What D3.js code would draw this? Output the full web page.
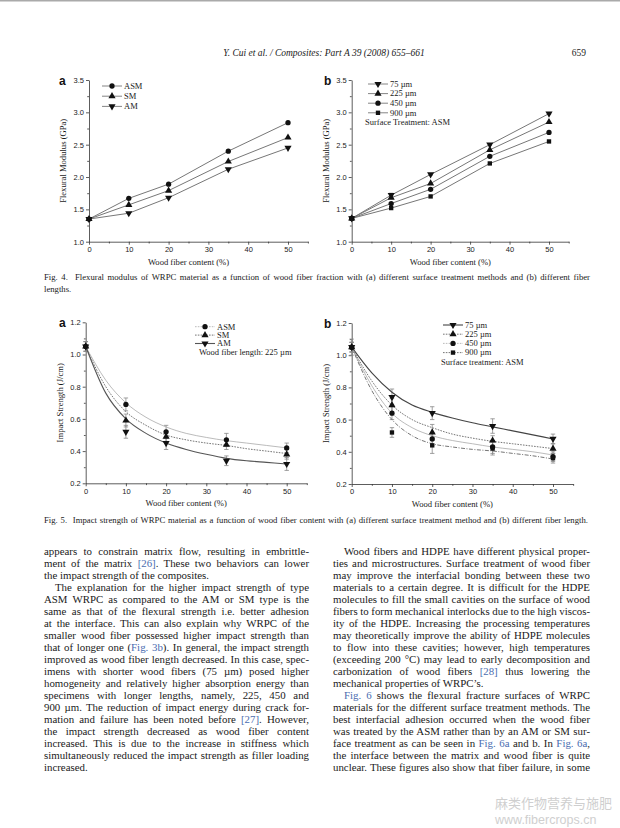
<!DOCTYPE html>
<html><head><meta charset="utf-8">
<script src="https://cdnjs.cloudflare.com/ajax/libs/d3/7.8.5/d3.min.js"></script>
<style>body{margin:0;background:#fff}svg{display:block}</style>
</head><body>
<svg id="page" width="620" height="828"></svg>
<script>
// ---------- DATA ----------
const fiberContent = [0, 10, 20, 35, 50];
const xTickLabels = [0, 10, 20, 30, 40, 50];
const flexTicks = [1.0, 1.5, 2.0, 2.5, 3.0, 3.5];
const impactTicks = [0.2, 0.4, 0.6, 0.8, 1.0, 1.2];

const flexASM = [1.35, 1.67, 1.89, 2.40, 2.84];
const flexSM  = [1.35, 1.57, 1.79, 2.24, 2.61];
const flexAM  = [1.35, 1.44, 1.68, 2.12, 2.45];

const flex75  = [1.36, 1.72, 2.04, 2.50, 2.98];
const flex225 = [1.36, 1.68, 1.90, 2.42, 2.85];
const flex450 = [1.36, 1.59, 1.81, 2.32, 2.69];
const flex900 = [1.36, 1.52, 1.70, 2.21, 2.55];
const flex75Err = [0.01, 0.03, 0.01, 0.01, 0.01];

const impactASM = [1.05, 0.69, 0.52, 0.47, 0.42];
const impactSM  = [1.05, 0.59, 0.49, 0.44, 0.38];
const impactAM  = [1.05, 0.52, 0.45, 0.34, 0.32];
const impactASMErr = [0.03, 0.04, 0.04, 0.04, 0.03];
const impactSMErr  = [0.03, 0.04, 0.03, 0.03, 0.03];
const impactAMErr  = [0.03, 0.04, 0.04, 0.03, 0.04];

const fitX = [0, 5, 10, 15, 20, 25, 30, 35, 40, 45, 50];
const impactFitASM = [1.05, 0.84, 0.70, 0.61, 0.55, 0.51, 0.485, 0.465, 0.45, 0.435, 0.42];
const impactFitSM  = [1.05, 0.80, 0.645, 0.56, 0.50, 0.47, 0.45, 0.435, 0.415, 0.40, 0.385];
const impactFitAM  = [1.05, 0.76, 0.60, 0.51, 0.45, 0.41, 0.38, 0.355, 0.34, 0.33, 0.32];

const impact75  = [1.05, 0.74, 0.64, 0.56, 0.48];
const impact225 = [1.05, 0.69, 0.52, 0.47, 0.42];
const impact450 = [1.05, 0.64, 0.48, 0.43, 0.37];
const impact900 = [1.05, 0.52, 0.44, 0.42, 0.36];
const impact75Err  = [0.05, 0.05, 0.04, 0.045, 0.03];
const impact225Err = [0.03, 0.04, 0.05, 0.03, 0.03];
const impact450Err = [0.03, 0.04, 0.04, 0.04, 0.03];
const impact900Err = [0.03, 0.03, 0.05, 0.04, 0.03];
const lenFit75  = [1.05, 0.89, 0.77, 0.69, 0.645, 0.61, 0.58, 0.555, 0.53, 0.505, 0.48];
const lenFit225 = [1.05, 0.84, 0.69, 0.60, 0.55, 0.51, 0.485, 0.465, 0.45, 0.435, 0.42];
const lenFit450 = [1.05, 0.81, 0.64, 0.55, 0.50, 0.47, 0.45, 0.43, 0.415, 0.40, 0.38];
const lenFit900 = [1.05, 0.78, 0.60, 0.50, 0.45, 0.43, 0.415, 0.405, 0.39, 0.375, 0.355];

const treatmentNames = ["ASM", "SM", "AM"];
const lengthNames = ["75 \u00b5m", "225 \u00b5m", "450 \u00b5m", "900 \u00b5m"];

// ---------- TEXT ----------
const headerText = "Y. Cui et al. / Composites: Part A 39 (2008) 655\u2013661";
const pageNumber = "659";
const fig4Caption = ["Fig. 4.  Flexural modulus of WRPC material as a function of wood fiber fraction with (a) different surface treatment methods and (b) different fiber", "lengths."];
const fig5Caption = "Fig. 5.  Impact strength of WRPC material as a function of wood fiber content with (a) different surface treatment method and (b) different fiber length.";
const leftLines = [
 {t:"appears to constrain matrix flow, resulting in embrittle-"},
 {t:"ment of the matrix {[26]}. These two behaviors can lower"},
 {t:"the impact strength of the composites.", last:true},
 {t:"The explanation for the higher impact strength of type", indent:true},
 {t:"ASM WRPC as compared to the AM or SM type is the"},
 {t:"same as that of the flexural strength i.e. better adhesion"},
 {t:"at the interface. This can also explain why WRPC of the"},
 {t:"smaller wood fiber possessed higher impact strength than"},
 {t:"that of longer one ({Fig. 3b}). In general, the impact strength"},
 {t:"improved as wood fiber length decreased. In this case, spec-"},
 {t:"imens with shorter wood fibers (75 \u00b5m) posed higher"},
 {t:"homogeneity and relatively higher absorption energy than"},
 {t:"specimens with longer lengths, namely, 225, 450 and"},
 {t:"900 \u00b5m. The reduction of impact energy during crack for-"},
 {t:"mation and failure has been noted before {[27]}. However,"},
 {t:"the impact strength decreased as wood fiber content"},
 {t:"increased. This is due to the increase in stiffness which"},
 {t:"simultaneously reduced the impact strength as filler loading"},
 {t:"increased.", last:true}
];
const rightLines = [
 {t:"Wood fibers and HDPE have different physical proper-", indent:true},
 {t:"ties and microstructures. Surface treatment of wood fiber"},
 {t:"may improve the interfacial bonding between these two"},
 {t:"materials to a certain degree. It is difficult for the HDPE"},
 {t:"molecules to fill the small cavities on the surface of wood"},
 {t:"fibers to form mechanical interlocks due to the high viscos-"},
 {t:"ity of the HDPE. Increasing the processing temperatures"},
 {t:"may theoretically improve the ability of HDPE molecules"},
 {t:"to flow into these cavities; however, high temperatures"},
 {t:"(exceeding 200 \u00b0C) may lead to early decomposition and"},
 {t:"carbonization of wood fibers {[28]} thus lowering the"},
 {t:"mechanical properties of WRPC\u2019s.", last:true},
 {t:"{Fig. 6} shows the flexural fracture surfaces of WRPC", indent:true},
 {t:"materials for the different surface treatment methods. The"},
 {t:"best interfacial adhesion occurred when the wood fiber"},
 {t:"was treated by the ASM rather than by an AM or SM sur-"},
 {t:"face treatment as can be seen in {Fig. 6a} and b. In {Fig. 6a},"},
 {t:"the interface between the matrix and wood fiber is quite"},
 {t:"unclear. These figures also show that fiber failure, in some"}
];

// ---------- DRAW ----------
const svg = d3.select("#page");
const SERIF = "'Liberation Serif','Times New Roman',serif";
const SANS = "'Liberation Sans',Arial,sans-serif";
const INK = "#1a1a1a";
const LINK = "#4a6cb0";

svg.append("rect").attr("width",620).attr("height",828).attr("fill","#fff");
svg.append("line").attr("x1",0).attr("x2",620).attr("y1",0.75).attr("y2",0.75).attr("stroke","#aaa").attr("stroke-width",1.5);

svg.append("text").attr("x",324).attr("y",56).attr("text-anchor","middle")
  .attr("font-family",SERIF).attr("font-style","italic").attr("font-size",9.5).attr("fill",INK).text(headerText);
svg.append("text").attr("x",586).attr("y",56).attr("text-anchor","end")
  .attr("font-family",SERIF).attr("font-size",9.5).attr("fill",INK).text(pageNumber);

function richText(sel, str) {
  const parts = str.split(/(\{[^}]*\})/).filter(s => s.length);
  parts.forEach(p => {
    if (p.startsWith("{")) sel.append("tspan").attr("fill", LINK).text(p.slice(1, -1));
    else sel.append("tspan").text(p);
  });
}
function justifiedLine(x, right, y, str, size, justify) {
  const t = svg.append("text").attr("x", x).attr("y", y)
    .attr("font-family", SERIF).attr("font-size", size).attr("fill", INK)
    .attr("xml:space", "preserve");
  richText(t, str);
  if (justify) {
    const len = t.node().getComputedTextLength();
    const spaces = (str.replace(/[{}]/g, "").match(/ /g) || []).length;
    if (spaces) t.attr("word-spacing", (right - x - len) / spaces);
  }
  return t;
}
function column(lines, x, right, y0, lh) {
  lines.forEach((l, i) => {
    const xs = l.indent ? x + 11 : x;
    justifiedLine(xs, right, y0 + i * lh, l.t, 10.85, !l.last);
  });
}

// Captions
justifiedLine(44, 590, 280, fig4Caption[0], 8.7, true);
justifiedLine(44, 590, 291.5, fig4Caption[1], 8.7, false);
justifiedLine(44, 588, 523, fig5Caption, 8.7, true);

column(leftLines, 44, 309, 554.5, 12.0);
column(rightLines, 333, 590, 554.5, 12.0);

// Watermark
svg.append("text").attr("x",495).attr("y",808).attr("font-family","'Noto Sans CJK SC',sans-serif")
  .attr("font-size",13).attr("fill","#cfcfcf").text("\u9ebb\u7c7b\u4f5c\u7269\u8425\u517b\u4e0e\u65bd\u80a5");
svg.append("text").attr("x",495).attr("y",824).attr("font-family",SANS)
  .attr("font-size",12.5).attr("fill","#cfcfcf").text("www.fibercrops.cn");

// ---------- CHART HELPERS ----------
const symCircle = d3.symbol().type(d3.symbolCircle).size(22)();
const symTri = d3.symbol().type(d3.symbolTriangle).size(22)();
const symSquare = d3.symbol().type(d3.symbolSquare).size(19)();
const markers = {
  circle: {d: symCircle, rot: 0},
  up: {d: symTri, rot: 0},
  down: {d: symTri, rot: 180},
  square: {d: symSquare, rot: 0}
};
function marker(g, x, y, m) {
  g.append("path").attr("d", markers[m].d)
    .attr("transform", `translate(${x},${y}) rotate(${markers[m].rot})`)
    .attr("fill", "#111");
}

function makePanel(o) {
  const g = svg.append("g");
  const k = (o.x50 - o.x0) / 50;
  const xs = d3.scaleLinear().domain([0, 55]).range([o.x0, o.x0 + 55 * k]);
  const ys = d3.scaleLinear().domain(o.yDomain).range([o.yBottom, o.yTop]);
  g.append("g").attr("transform", `translate(0,${o.yBottom})`)
    .call(d3.axisBottom(xs).tickValues(xTickLabels).tickSize(3).tickSizeOuter(0).tickPadding(2).tickFormat(d3.format("d")));
  g.append("g").attr("transform", `translate(0,${o.yBottom})`)
    .call(d3.axisBottom(xs).tickValues([5, 15, 25, 35, 45, 55]).tickSize(1.8).tickSizeOuter(0).tickFormat(""))
    .select(".domain").remove();
  g.append("g").attr("transform", `translate(${o.x0},0)`)
    .call(d3.axisLeft(ys).tickValues(o.yTicks).tickSize(3).tickSizeOuter(0).tickPadding(2).tickFormat(d3.format(".1f")));
  g.append("g").attr("transform", `translate(${o.x0},0)`)
    .call(d3.axisLeft(ys).tickValues(o.yMinor).tickSize(1.8).tickSizeOuter(0).tickFormat(""))
    .select(".domain").remove();
  g.selectAll(".domain,.tick line").attr("stroke", "#333").attr("stroke-width", 0.8);
  g.selectAll(".tick text").attr("font-family", SANS).attr("font-size", 7.5).attr("fill", "#222");
  g.append("text").attr("x", (o.x0 + o.x50) / 2).attr("y", o.yBottom + 23).attr("text-anchor", "middle")
    .attr("font-family", SERIF).attr("font-size", 8.6).attr("fill", INK).text("Wood fiber content (%)");
  g.append("text").attr("transform", `translate(${o.x0 - 23},${(o.yTop + o.yBottom) / 2}) rotate(-90)`)
    .attr("text-anchor", "middle").attr("font-family", SERIF).attr("font-size", 8.6).attr("fill", INK).text(o.yTitle);
  g.append("text").attr("x", o.letterX).attr("y", o.yTop + 4.5).attr("font-family", SANS)
    .attr("font-weight", "bold").attr("font-size", 12).attr("fill", "#111").text(o.letter);
  return {g, xs, ys};
}

function legend(g, x, y, items, step, note) {
  items.forEach((it, i) => {
    const yy = y + i * step;
    g.append("line").attr("x1", x).attr("x2", x + 20).attr("y1", yy).attr("y2", yy)
      .attr("stroke", it.color).attr("stroke-width", it.width || 0.9).attr("stroke-dasharray", it.dash || null);
    marker(g, x + 10, yy, it.m);
    g.append("text").attr("x", x + 22).attr("y", yy + 2.8).attr("font-family", SERIF)
      .attr("font-size", 8.5).attr("fill", INK).text(it.name);
  });
  if (note) g.append("text").attr("x", note.x).attr("y", y + items.length * step + 2.8)
    .attr("font-family", SERIF).attr("font-size", 8.5).attr("fill", INK).text(note.text);
}

function errorBars(g, xs, ys, vals, errs) {
  vals.forEach((v, i) => {
    const x = xs(fiberContent[i]);
    const y1 = ys(v - errs[i]), y2 = ys(v + errs[i]);
    g.append("line").attr("x1", x).attr("x2", x).attr("y1", y1).attr("y2", y2).attr("stroke", "#888").attr("stroke-width", 0.8);
    [y1, y2].forEach(yy => g.append("line").attr("x1", x - 2.2).attr("x2", x + 2.2).attr("y1", yy).attr("y2", yy)
      .attr("stroke", "#888").attr("stroke-width", 0.8));
  });
}

// ---------- Fig 4a ----------
{
  const {g, xs, ys} = makePanel({x0: 89, x50: 288, yTop: 80, yBottom: 241.7, yDomain: [1.0, 3.5],
    yTicks: flexTicks, yMinor: [1.25, 1.75, 2.25, 2.75, 3.25], yTitle: "Flexural Modulus (GPa)", letter: "a", letterX: 59});
  const series = [[flexASM, "circle"], [flexSM, "up"], [flexAM, "down"]];
  const line = d3.line().x((d, i) => xs(fiberContent[i])).y(d => ys(d));
  series.forEach(([vals]) => g.append("path").attr("d", line(vals)).attr("fill", "none").attr("stroke", "#777").attr("stroke-width", 1));
  series.forEach(([vals, m]) => vals.forEach((v, i) => marker(g, xs(fiberContent[i]), ys(v), m)));
  legend(g, 102, 86, treatmentNames.map((n, i) => ({name: n, m: series[i][1], color: "#777"})), 10.2);
}

// ---------- Fig 4b ----------
{
  const {g, xs, ys} = makePanel({x0: 351.7, x50: 549, yTop: 80, yBottom: 241.7, yDomain: [1.0, 3.5],
    yTicks: flexTicks, yMinor: [1.25, 1.75, 2.25, 2.75, 3.25], yTitle: "Flexural Modulus (GPa)", letter: "b", letterX: 324});
  const series = [[flex75, "down"], [flex225, "up"], [flex450, "circle"], [flex900, "square"]];
  const line = d3.line().x((d, i) => xs(fiberContent[i])).y(d => ys(d));
  series.forEach(([vals]) => g.append("path").attr("d", line(vals)).attr("fill", "none").attr("stroke", "#777").attr("stroke-width", 1));
  errorBars(g, xs, ys, flex75, flex75Err);
  series.forEach(([vals, m]) => vals.forEach((v, i) => marker(g, xs(fiberContent[i]), ys(v), m)));
  legend(g, 368, 84, lengthNames.map((n, i) => ({name: n, m: series[i][1], color: "#777"})), 9.6,
    {x: 365, text: "Surface Treatment: ASM"});
}

// ---------- Fig 5a ----------
{
  const {g, xs, ys} = makePanel({x0: 85.7, x50: 286.7, yTop: 322.3, yBottom: 483.3, yDomain: [0.2, 1.2],
    yTicks: impactTicks, yMinor: [0.3, 0.5, 0.7, 0.9, 1.1], yTitle: "Impact Strength (J/cm)", letter: "a", letterX: 59});
  const styles = [
    {fit: impactFitASM, vals: impactASM, err: impactASMErr, m: "circle", color: "#aaa", width: 0.8, dash: null},
    {fit: impactFitSM, vals: impactSM, err: impactSMErr, m: "up", color: "#666", width: 0.9, dash: "1.6,1.2"},
    {fit: impactFitAM, vals: impactAM, err: impactAMErr, m: "down", color: "#555", width: 1.1, dash: null}
  ];
  const fitLine = d3.line().x((d, i) => xs(fitX[i])).y(d => ys(d)).curve(d3.curveMonotoneX);
  styles.forEach(s => errorBars(g, xs, ys, s.vals, s.err));
  styles.forEach(s => g.append("path").attr("d", fitLine(s.fit)).attr("fill", "none").attr("stroke", s.color)
    .attr("stroke-width", s.width).attr("stroke-dasharray", s.dash));
  styles.forEach(s => s.vals.forEach((v, i) => marker(g, xs(fiberContent[i]), ys(v), s.m)));
  legend(g, 195, 326.7, treatmentNames.map((n, i) => ({name: n, m: styles[i].m, color: styles[i].color, width: styles[i].width,
    dash: i === 2 ? null : "1.6,1.2"})), 8.4, {x: 199, text: "Wood fiber length: 225 \u00b5m"});
}

// ---------- Fig 5b ----------
{
  const {g, xs, ys} = makePanel({x0: 351.7, x50: 553, yTop: 323, yBottom: 484, yDomain: [0.2, 1.2],
    yTicks: impactTicks, yMinor: [0.3, 0.5, 0.7, 0.9, 1.1], yTitle: "Impact Strength (J/cm)", letter: "b", letterX: 324});
  const styles = [
    {fit: lenFit75, vals: impact75, err: impact75Err, m: "down", color: "#444", width: 1.1, dash: null},
    {fit: lenFit225, vals: impact225, err: impact225Err, m: "up", color: "#666", width: 0.9, dash: "1.6,1.2"},
    {fit: lenFit450, vals: impact450, err: impact450Err, m: "circle", color: "#aaa", width: 0.8, dash: null},
    {fit: lenFit900, vals: impact900, err: impact900Err, m: "square", color: "#666", width: 0.9, dash: "4,1.5,1,1.5"}
  ];
  const fitLine = d3.line().x((d, i) => xs(fitX[i])).y(d => ys(d)).curve(d3.curveMonotoneX);
  styles.forEach(s => errorBars(g, xs, ys, s.vals, s.err));
  styles.forEach(s => g.append("path").attr("d", fitLine(s.fit)).attr("fill", "none").attr("stroke", s.color)
    .attr("stroke-width", s.width).attr("stroke-dasharray", s.dash));
  styles.forEach(s => s.vals.forEach((v, i) => marker(g, xs(fiberContent[i]), ys(v), s.m)));
  legend(g, 443, 325, lengthNames.map((n, i) => ({name: n, m: styles[i].m, color: styles[i].color, width: styles[i].width,
    dash: i === 0 ? null : "1.6,1.2"})), 9.2, {x: 441, text: "Surface treatment: ASM"});
}
</script>
</body></html>
